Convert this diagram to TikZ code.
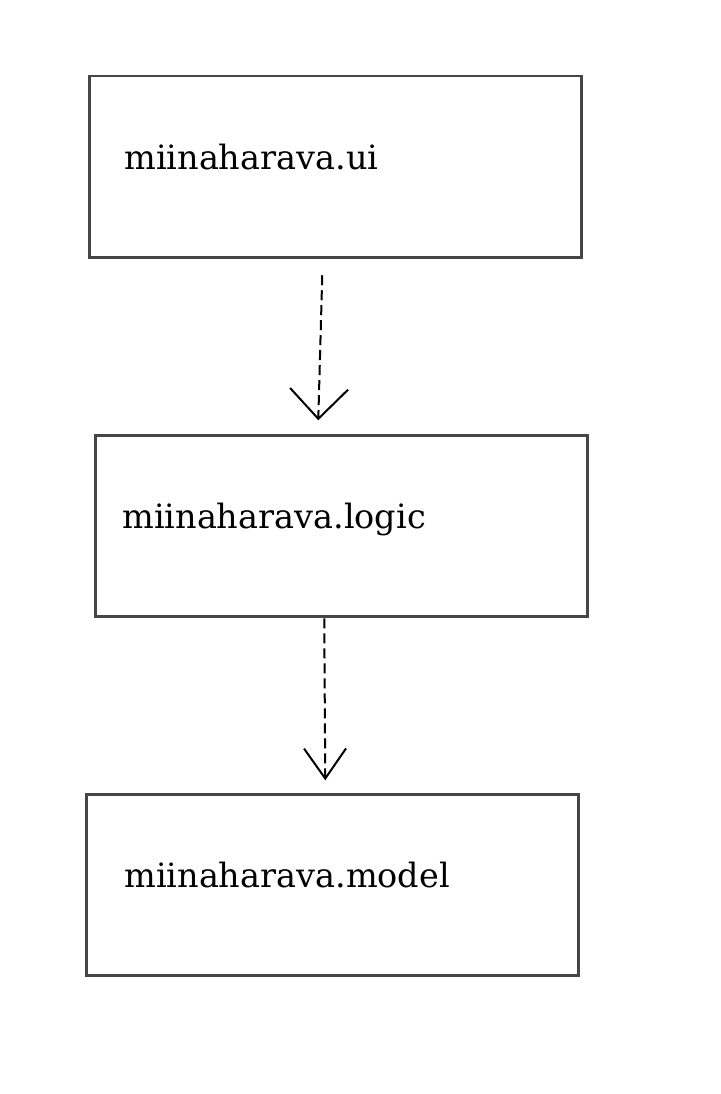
\documentclass[tikz,border=0pt]{standalone}
\usepackage{fontspec}
\setmainfont{DejaVu Serif}
\usepackage{tikz}
\usetikzlibrary{arrows.meta, positioning, calc}
\definecolor{Box_Gray}{RGB}{70,70,70}

\begin{document}
\begin{tikzpicture}[
    x=1pt, y=-1pt,
    node distance=178pt,
    package/.style={rectangle, draw=Box_Gray, line width=2.5pt, fill=white,
                    minimum width=492pt, minimum height=181pt, inner sep=0pt, outer sep=0pt,
                    text width=422pt, align=left, text height=28pt, text depth=23pt,
                    font=\fontsize{33.5}{40}\selectfont},
    dep/.style={dash pattern=on 10pt off 5pt, line width=2pt, black,
                -{Straight Barb[length=30pt, width=58pt, line width=2pt]}}
]
\useasboundingbox (0,0) rectangle (720,1094);

\node[package, anchor=north west] (ui) at (89.25,76.25) {miinaharava.ui};

\node[package, below=of ui, xshift=6pt, text width=438pt] (logic) {miinaharava.logic};

\node[package, below=of logic, xshift=-9pt, text width=416pt] (model) {miinaharava.model};

\draw[dep] ([xshift=-13pt, yshift=-18pt]ui.south) -- ([xshift=-23pt, yshift=15pt]logic.north);
\draw[dep, -{Straight Barb[length=30pt, width=42pt, line width=2pt]}]
    ([xshift=-17pt, yshift=-2pt]logic.south) -- ([xshift=-7pt, yshift=14pt]model.north);

\end{tikzpicture}
\end{document}
